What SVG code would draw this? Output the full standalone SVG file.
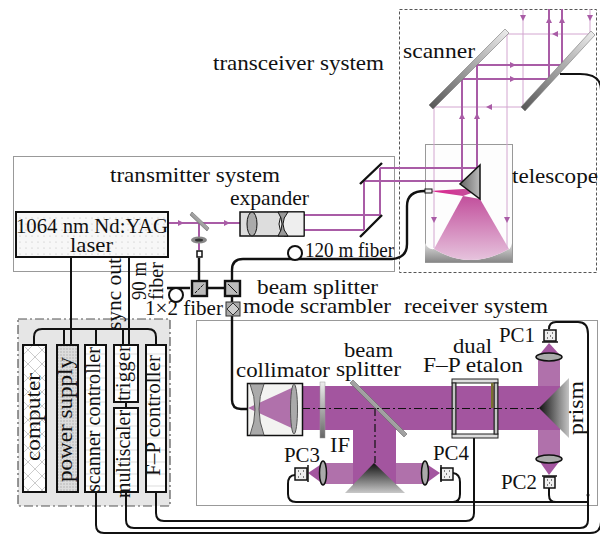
<svg xmlns="http://www.w3.org/2000/svg" width="600" height="534" viewBox="0 0 600 534">
<style>
text{font-family:"Liberation Serif","Times New Roman",serif;font-size:21.500px;fill:#111}
.frame{fill:none;stroke:#999;stroke-width:1}
.bk{fill:none;stroke:#111;stroke-width:2}
.fib{fill:none;stroke:#111;stroke-width:2.400}
.thick{fill:none;stroke:#a95ca6;stroke-width:2}
.thin{fill:none;stroke:#d3a6d0;stroke-width:1}
.box{stroke:#111;stroke-width:2}
.lens{fill:#aaa;stroke:#111;stroke-width:1.500}
.axis{fill:none;stroke:#111;stroke-width:1.200;stroke-dasharray:8 3 2 3}
.beam{fill:#a3559f}
.light{fill:#b071ab}
.tri{fill:#a3559f}
.ah{fill:#a95ca6}
</style>
<defs>
<polygon id="ar" points="-3,-3 3,-3 0,3"/>
<linearGradient id="gm" x1="0" y1="1" x2="1" y2="0"><stop offset="0" stop-color="#555"/><stop offset="1" stop-color="#eee"/></linearGradient>
<linearGradient id="gv" x1="0" y1="0" x2="0" y2="1"><stop offset="0" stop-color="#eee"/><stop offset="1" stop-color="#666"/></linearGradient>
<linearGradient id="gh" x1="0" y1="0" x2="1" y2="0"><stop offset="0" stop-color="#444"/><stop offset=".5" stop-color="#eee"/><stop offset="1" stop-color="#444"/></linearGradient>
<linearGradient id="gpr" x1="0" y1="0" x2="1" y2="0"><stop offset="0" stop-color="#111"/><stop offset="1" stop-color="#c4c4c4"/></linearGradient>
<linearGradient id="gpb" x1="0" y1="0" x2="0" y2="1"><stop offset="0" stop-color="#111"/><stop offset="1" stop-color="#c8c8c8"/></linearGradient>
<linearGradient id="gtp" x1="0" y1="0" x2="1" y2="0"><stop offset="0" stop-color="#666"/><stop offset="1" stop-color="#bbb"/></linearGradient>
<linearGradient id="gcone" x1="0" y1="0" x2="0" y2="1"><stop offset="0" stop-color="#c24f9c"/><stop offset="1" stop-color="#e6c3dd"/></linearGradient>
<linearGradient id="gpink" x1="0" y1="0" x2="1" y2="0"><stop offset="0" stop-color="#e0208c"/><stop offset="1" stop-color="#bd5aa0"/></linearGradient>
<linearGradient id="gbase" x1="0" y1="0" x2="0" y2="1"><stop offset="0" stop-color="#ddd"/><stop offset="1" stop-color="#888"/></linearGradient>
<pattern id="pdot" width="6" height="6" patternUnits="userSpaceOnUse"><rect width="6" height="6" fill="#f7f7f7"/><circle cx="2" cy="2" r=".6" fill="#bbb"/></pattern>
<pattern id="pdot2" width="3" height="3" patternUnits="userSpaceOnUse"><rect width="3" height="3" fill="#ddd"/><circle cx="1" cy="1" r=".7" fill="#aaa"/></pattern>
<pattern id="pcross" width="14" height="14" patternUnits="userSpaceOnUse"><rect width="14" height="14" fill="#fff"/><path d="M0 0L14 14M14 0L0 14" stroke="#ccc" stroke-width="1"/></pattern>
<pattern id="pline" width="8" height="12" patternUnits="userSpaceOnUse"><rect width="8" height="12" fill="#fff"/><path d="M0 6H8" stroke="#ddd" stroke-width="1"/></pattern>
</defs>
<rect width="600" height="534" fill="#fff"/>

<g id="frames">
<rect class="frame" x="13.500" y="156.500" width="381" height="115"/>
<rect class="frame" x="196.500" y="320.500" width="401" height="185"/>
<rect x="399.500" y="9.500" width="197" height="263" fill="none" stroke="#555" stroke-width="1" stroke-dasharray="3 2"/>
<rect x="18" y="319" width="152" height="187" fill="#e6e6e6" stroke="#555" stroke-width="1.200" stroke-dasharray="9 3 2 3"/>
</g>

<g id="telescope">
<rect x="425.500" y="144.500" width="87" height="118" fill="#fdfdfd" stroke="#999"/>
<path d="M425 243Q428 250 434 249Q470 271 509 249Q510 250 512 243V262H425Z" fill="url(#gbase)"/>
<path d="M463 196L480 199L509 249Q470 271 434 249Z" fill="url(#gcone)"/>
<path d="M429 191L463 189L480 190L463 196Z" fill="url(#gpink)"/>
<rect x="425" y="189" width="7" height="4" fill="#eee" stroke="#111"/>
</g>

<g id="beams">
<path class="thin" d="M523 9V107M590 9V33M507 34H593M434 107H523M434 107V248M507 34V248"/>
<path class="thick" d="M549 9V79M562 9V65M477 65H562M462 79H549M462 79V184M477 65V168"/>
<path class="thick" d="M380 168H477M364 181H462M364 181V230M380 168V215M304 215H380M304 230H364"/>
<path class="thick" d="M168 223H240M199 223V250" stroke-width="2.500"/>
<g class="ah">
<use href="#ar" transform="translate(523,18)"/><use href="#ar" transform="translate(590,18)"/>
<use href="#ar" transform="translate(434,220)"/><use href="#ar" transform="translate(507,220)"/>
<use href="#ar" transform="translate(549,20) rotate(180)"/><use href="#ar" transform="translate(562,20) rotate(180)"/>
<use href="#ar" transform="translate(462,116) rotate(180)"/><use href="#ar" transform="translate(477,116) rotate(180)"/>
<use href="#ar" transform="translate(513,65) rotate(-90)"/><use href="#ar" transform="translate(513,79) rotate(-90)"/>
<use href="#ar" transform="translate(555,34) rotate(90)"/><use href="#ar" transform="translate(489,107) rotate(90)"/>
<use href="#ar" transform="translate(181,223) rotate(-90)"/><use href="#ar" transform="translate(227,223) rotate(-90)"/>
</g>
</g>

<g id="scanner-mirrors">
<polygon points="505,29 509,33 433,109 429,105" fill="url(#gm)" stroke="#777" stroke-width=".6"/>
<polygon points="591,31 595,35 525,111 521,107" fill="url(#gm)" stroke="#777" stroke-width=".6"/>
</g>
<polygon id="tel-prism" points="480,165 460,184 480,199" fill="url(#gtp)" stroke="#111" stroke-width="1.500"/>
<g id="steer-mirrors" fill="none" stroke="#111" stroke-width="2.400">
<path d="M360 184L382 163M360 237L382 215"/>
</g>

<g id="connectors">
<path class="fib" d="M199 258V280M167 288H190M207 288H224M232 297V302M232 316V400Q232 409 241 409H248"/>
<path class="fib" d="M232 280V270Q232 259 243 259H392Q407 258 407 244V206Q407 191 425 191"/>
<path class="bk" d="M34 345V337Q34 329 42 329H148Q156 329 156 337V345M64 329V345M96 329V345M123 329V345M71 257V345M129 257V345M126 402V408"/>
<path class="bk" d="M96 492V525Q96 533 104 533H590Q601 533 601 522V90Q601 74 580 74H560" stroke-width="1.600"/>
<path class="bk" d="M126 492V520Q126 528 134 528H580Q588 528 588 520V334Q588 322 578 322H556Q549 322 549 329"/>
<path class="bk" d="M156 492V513Q156 521 164 521H466Q474 521 474 513V438"/>
<path class="bk" d="M295 475Q288 475 288 484V494Q288 502 296 502H588"/>
<path class="bk" d="M453 473Q460 474 460 482V494Q460 502 453 502M549 488V495Q549 502 556 502" stroke-width="1.600"/>
<circle cx="295" cy="253" r="7" fill="#fff" stroke="#111" stroke-width="2"/>
<circle cx="176" cy="295" r="7" fill="#fff" stroke="#111" stroke-width="2"/>
<circle cx="588" cy="495" r="1.500" fill="#111"/>
</g>

<g id="splitter-pick">
<polygon points="192,212 209,228 207,231 190,215" fill="url(#gm)" stroke="#666" stroke-width=".6"/>
<ellipse cx="199" cy="240" rx="8" ry="3.500" fill="#888"/><ellipse cx="199" cy="240" rx="4" ry="1.500" fill="#333"/>
<rect x="197" y="251" width="5" height="6" fill="#fff" stroke="#111" stroke-width="1.500"/>
</g>

<g id="laser">
<rect class="box" x="16" y="212" width="152" height="45" fill="url(#pdot)"/>
<text x="16" y="233" textLength="152" lengthAdjust="spacingAndGlyphs">1064 nm Nd:YAG</text>
<text x="70" y="252" textLength="43" lengthAdjust="spacingAndGlyphs">laser</text>
</g>

<g id="expander">
<rect x="240" y="212" width="64" height="24" fill="#ddd" stroke="#111" stroke-width="1.500"/>
<path d="M284 212H304V236H284Q274 224 284 212Z" fill="#eee" stroke="#111"/>
<path d="M278 212H288Q278 224 288 236H278Q286 224 278 212Z" fill="#999" stroke="#111"/>
<ellipse cx="252" cy="224" rx="5" ry="12" fill="#aaa" stroke="#111"/>
</g>

<g id="cube1"><rect x="192" y="281" width="15" height="15" fill="#bbb" stroke="#111" stroke-width="2.400"/><path d="M195 293L204 284" stroke="#111" stroke-dasharray="3 1"/></g>
<g id="cube2"><rect x="225" y="281" width="15" height="15" fill="#bbb" stroke="#111" stroke-width="2.400"/><path d="M228 284L237 293" stroke="#111"/></g>
<g id="scrambler"><rect x="226" y="302" width="14" height="14" fill="#aaa" stroke="#333"/><polygon points="233,303 239,309 233,315 227,309" fill="#ccc" stroke="#333"/></g>

<g id="receiver-beams">
<rect class="light" x="538" y="358" width="22" height="100"/>
<rect class="light" x="323" y="463" width="30" height="21"/>
<rect class="light" x="396" y="463" width="29" height="21"/>
<rect class="beam" x="303" y="386" width="257" height="44"/>
<rect class="beam" x="353" y="430" width="43" height="63"/>
<polygon class="tri" points="549,343 540,354 559,354"/>
<polygon class="tri" points="549,475 540,462 559,462"/>
<polygon class="tri" points="308,473 323,463 323,484"/>
<polygon class="tri" points="440,473 425,463 425,484"/>
</g>

<g id="collimator">
<rect x="247.500" y="383.500" width="55" height="52" fill="#f3f3f1" stroke="#111" stroke-width="1.500"/>
<polygon points="248,408 296,386 296,430" fill="#b071ab"/>
<path d="M250 384H264Q254 409 264 435H250Q260 409 250 384Z" fill="#aaa" stroke="#555"/>
<ellipse cx="294" cy="409" rx="3.500" ry="25" fill="#aaa" stroke="#555"/>
</g>

<rect id="if-filter" x="320" y="382" width="5" height="56" fill="url(#gv)" stroke="#999" stroke-width=".5"/>
<polygon id="splitter" points="353,380 407,434 404,437 350,383" fill="url(#gm)" stroke="#666" stroke-width=".6"/>
<polygon id="prism-bottom" points="374,463 405,493 345,493" fill="url(#gpb)"/>
<polygon id="prism-right" points="539,408 569,378 569,438" fill="url(#gpr)"/>

<g id="etalon" fill="url(#gh)" stroke="#222" stroke-width="1">
<rect x="452" y="379" width="46" height="4" fill="#ddd"/>
<rect x="452" y="434" width="46" height="4" fill="#ddd"/>
<rect x="452" y="383" width="4" height="51"/>
<rect x="494" y="383" width="4" height="51"/>
<rect x="491" y="383" width="2.500" height="25" fill="#77702f" stroke="none"/>
</g>

<path id="axis" class="axis" d="M302 408.500H539M375 408V463"/>

<g id="lenses">
<ellipse class="lens" cx="549" cy="357" rx="13" ry="4"/>
<ellipse class="lens" cx="549" cy="459" rx="13" ry="4"/>
<ellipse class="lens" cx="323" cy="473" rx="3.500" ry="12"/>
<ellipse class="lens" cx="425" cy="473" rx="3.500" ry="12"/>
</g>

<g id="PC1"><rect x="544" y="330" width="12" height="11" fill="#eee" stroke="#111" stroke-width="1.500"/><path d="M542 342H558" stroke="#111" stroke-width="1.500"/><path d="M547 333h1M552 333h1M550 336h1M547 338h1M552 338h1" stroke="#111"/></g>
<g id="PC2"><rect x="544" y="477" width="11" height="11" fill="#eee" stroke="#111" stroke-width="1.500"/><path d="M542 476H557" stroke="#111" stroke-width="1.500"/><path d="M547 480h1M551 480h1M549 483h1M547 485h1M551 485h1" stroke="#111"/></g>
<g id="PC3"><rect x="295" y="468" width="12" height="12" fill="#eee" stroke="#111" stroke-width="1.500"/><path d="M308 465V482" stroke="#111" stroke-width="1.500"/><path d="M298 471h1M303 471h1M300 474h1M298 477h1M303 477h1" stroke="#111"/></g>
<g id="PC4"><rect x="441" y="468" width="12" height="12" fill="#eee" stroke="#111" stroke-width="1.500"/><path d="M441 465V482" stroke="#111" stroke-width="1.500"/><path d="M444 471h1M449 471h1M446 474h1M444 477h1M449 477h1" stroke="#111"/></g>

<g id="computer"><rect class="box" x="23" y="345" width="23" height="147" fill="url(#pcross)"/><text transform="translate(40,461) rotate(-90)" textLength="88" lengthAdjust="spacingAndGlyphs">computer</text></g>
<g id="power-supply"><rect class="box" x="57" y="345" width="21" height="147" fill="url(#pdot2)"/><text transform="translate(72,482) rotate(-90)" textLength="125" lengthAdjust="spacingAndGlyphs">power supply</text></g>
<g id="scanner-controller"><rect class="box" x="85" y="345" width="21" height="147" fill="url(#pline)"/><text transform="translate(100,492) rotate(-90)" textLength="145" lengthAdjust="spacingAndGlyphs">scanner controller</text></g>
<g id="trigger"><rect class="box" x="114" y="345" width="24" height="57" fill="url(#pline)"/><text transform="translate(130,401) rotate(-90)" textLength="56" lengthAdjust="spacingAndGlyphs">trigger</text></g>
<g id="multiscaler"><rect class="box" x="114" y="408" width="24" height="84" fill="url(#pline)"/><text transform="translate(130,498) rotate(-90)" textLength="88" lengthAdjust="spacingAndGlyphs">multiscaler</text></g>
<g id="fp-controller"><rect class="box" x="146" y="345" width="20" height="147" fill="url(#pline)"/><text transform="translate(160,476) rotate(-90)" textLength="121" lengthAdjust="spacingAndGlyphs">F–P controller</text></g>

<g id="labels">
<text x="403" y="58" textLength="72" lengthAdjust="spacingAndGlyphs">scanner</text>
<text x="213" y="70" textLength="171" lengthAdjust="spacingAndGlyphs">transceiver system</text>
<text x="512" y="183" textLength="86" lengthAdjust="spacingAndGlyphs">telescope</text>
<text x="110" y="182" textLength="170" lengthAdjust="spacingAndGlyphs">transmitter system</text>
<text x="230" y="205" textLength="79" lengthAdjust="spacingAndGlyphs">expander</text>
<text x="305" y="257" textLength="89" lengthAdjust="spacingAndGlyphs">120 m fiber</text>
<text transform="translate(121,330) rotate(-90)" textLength="72" lengthAdjust="spacingAndGlyphs">sync out</text>
<text transform="translate(146,300) rotate(-90)" textLength="38" lengthAdjust="spacingAndGlyphs">90 m</text>
<text transform="translate(163,300) rotate(-90)" textLength="38" lengthAdjust="spacingAndGlyphs">fiber</text>
<text x="145" y="315" textLength="78" lengthAdjust="spacingAndGlyphs">1×2 fiber</text>
<text x="257" y="294" textLength="121" lengthAdjust="spacingAndGlyphs">beam splitter</text>
<text x="243" y="313" textLength="148" lengthAdjust="spacingAndGlyphs">mode scrambler</text>
<text x="404" y="313" textLength="144" lengthAdjust="spacingAndGlyphs">receiver system</text>
<text x="236" y="377" textLength="94" lengthAdjust="spacingAndGlyphs">collimator</text>
<text x="344" y="357" textLength="49" lengthAdjust="spacingAndGlyphs">beam</text>
<text x="336" y="376" textLength="65" lengthAdjust="spacingAndGlyphs">splitter</text>
<text x="453" y="353" textLength="39" lengthAdjust="spacingAndGlyphs">dual</text>
<text x="423" y="372" textLength="100" lengthAdjust="spacingAndGlyphs">F–P etalon</text>
<text x="499" y="342" textLength="36" lengthAdjust="spacingAndGlyphs">PC1</text>
<text x="501" y="489" textLength="36" lengthAdjust="spacingAndGlyphs">PC2</text>
<text x="284" y="462" textLength="36" lengthAdjust="spacingAndGlyphs">PC3</text>
<text x="433" y="460" textLength="36" lengthAdjust="spacingAndGlyphs">PC4</text>
<text x="330" y="452" textLength="20" lengthAdjust="spacingAndGlyphs">IF</text>
<text transform="translate(583,435) rotate(-90)" textLength="54" lengthAdjust="spacingAndGlyphs">prism</text>
</g>
</svg>
